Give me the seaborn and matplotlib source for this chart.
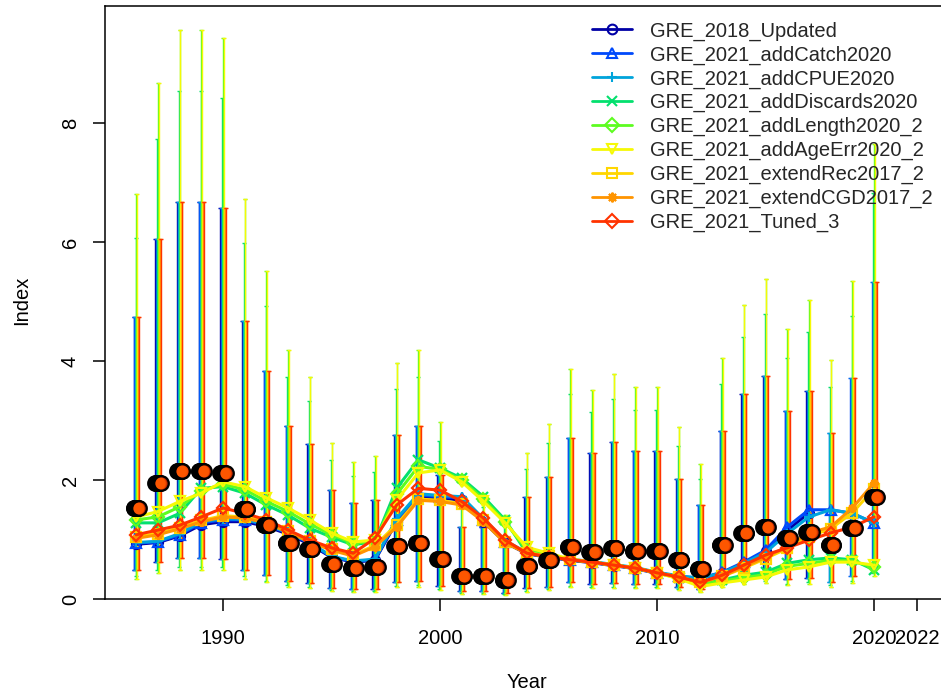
import numpy as np
import pandas as pd
import matplotlib
matplotlib.use("Agg")
import matplotlib.pyplot as plt
import seaborn as sns
from matplotlib.lines import Line2D
from matplotlib.colors import to_rgba

# ---------------- data ----------------
years = list(range(1986, 2021))

models = ["GRE_2018_Updated", "GRE_2021_addCatch2020", "GRE_2021_addCPUE2020",
          "GRE_2021_addDiscards2020", "GRE_2021_addLength2020_2", "GRE_2021_addAgeErr2020_2",
          "GRE_2021_extendRec2017_2", "GRE_2021_extendCGD2017_2", "GRE_2021_Tuned_3"]
colors = ["#0000A6", "#0049FB", "#00A4DB", "#03E06E", "#5DFC20", "#F6F905",
          "#FFD600", "#FF9400", "#FF3300"]
markers = ["o", "^", "+", "x", "D", "v", "s", (8, 2, 0), "D"]
unc_group = ["low", "low", "low", "mid", "high", "high", "low", "low", "low"]
last_year = [2017, 2020, 2020, 2020, 2020, 2020, 2020, 2020, 2020]

obs = [1.53, 1.95, 2.15, 2.15, 2.12, 1.51, 1.24, 0.94, 0.84, 0.59, 0.52, 0.54,
       0.89, 0.94, 0.67, 0.39, 0.39, 0.32, 0.55, 0.66, 0.87, 0.79, 0.85, 0.80,
       0.80, 0.65, 0.51, 0.91, 1.11, 1.21, 1.02, 1.13, 0.90, 1.20, 1.72]

upper_low = [4.74, 6.05, 6.67, 6.67, 6.57, 4.68, 3.84, 2.91, 2.60, 1.83, 1.61, 1.67,
             2.76, 2.91, 2.08, 1.21, 1.21, 0.99, 1.71, 2.05, 2.70, 2.45, 2.64, 2.48,
             2.48, 2.02, 1.58, 2.82, 3.44, 3.75, 3.16, 3.50, 2.79, 3.72, 5.33]
upper_mid = [6.07, 7.74, 8.54, 8.54, 8.42, 5.99, 4.92, 3.73, 3.33, 2.34, 2.06, 2.14,
             3.53, 3.73, 2.66, 1.55, 1.55, 1.27, 2.18, 2.62, 3.45, 3.14, 3.37, 3.18,
             3.18, 2.58, 2.02, 3.61, 4.41, 4.80, 4.05, 4.49, 3.57, 4.76, 6.83]
upper_high = [6.81, 8.68, 9.57, 9.57, 9.43, 6.72, 5.52, 4.18, 3.74, 2.63, 2.31, 2.40,
              3.96, 4.18, 2.98, 1.74, 1.74, 1.42, 2.45, 2.94, 3.87, 3.52, 3.78, 3.56,
              3.56, 2.89, 2.27, 4.05, 4.94, 5.38, 4.54, 5.03, 4.01, 5.34, 7.65]
lower_low = [0.49, 0.63, 0.69, 0.69, 0.68, 0.49, 0.40, 0.30, 0.27, 0.19, 0.17, 0.17,
             0.29, 0.30, 0.22, 0.13, 0.13, 0.10, 0.18, 0.21, 0.28, 0.25, 0.27, 0.26,
             0.26, 0.21, 0.16, 0.29, 0.36, 0.39, 0.33, 0.36, 0.29, 0.39, 0.55]
lower_mid = [0.39, 0.49, 0.54, 0.54, 0.53, 0.38, 0.31, 0.24, 0.21, 0.15, 0.13, 0.14,
             0.22, 0.24, 0.17, 0.10, 0.10, 0.08, 0.14, 0.17, 0.22, 0.20, 0.21, 0.20,
             0.20, 0.16, 0.13, 0.23, 0.28, 0.30, 0.26, 0.28, 0.23, 0.30, 0.43]
lower_high = [0.34, 0.44, 0.48, 0.48, 0.48, 0.34, 0.28, 0.21, 0.19, 0.13, 0.12, 0.12,
              0.20, 0.21, 0.15, 0.09, 0.09, 0.07, 0.12, 0.15, 0.20, 0.18, 0.19, 0.18,
              0.18, 0.15, 0.11, 0.20, 0.25, 0.27, 0.23, 0.25, 0.20, 0.27, 0.39]

exp_2018_updated = [0.92, 0.95, 1.06, 1.25, 1.30, 1.30, 1.22, 1.09, 0.92, 0.70, 0.62, 0.65,
                    1.30, 1.72, 1.70, 1.66, 1.30, 0.95, 0.76, 0.70, 0.65, 0.61, 0.56, 0.51,
                    0.43, 0.37, 0.34, 0.44, 0.60, 0.80, 1.15, 1.45]
exp_add_catch = [0.94, 0.96, 1.08, 1.28, 1.33, 1.33, 1.24, 1.11, 0.94, 0.71, 0.63, 0.66,
                 1.33, 1.75, 1.72, 1.70, 1.33, 0.96, 0.77, 0.71, 0.66, 0.62, 0.57, 0.52,
                 0.44, 0.38, 0.35, 0.45, 0.62, 0.82, 1.21, 1.50, 1.50, 1.44, 1.28]
exp_add_cpue = [0.95, 0.97, 1.10, 1.30, 1.35, 1.34, 1.25, 1.12, 0.95, 0.72, 0.64, 0.67,
                1.35, 1.77, 1.74, 1.72, 1.35, 0.98, 0.78, 0.72, 0.67, 0.63, 0.58, 0.53,
                0.45, 0.39, 0.35, 0.44, 0.60, 0.78, 1.10, 1.38, 1.50, 1.44, 1.28]
exp_add_discards = [1.28, 1.28, 1.44, 1.86, 1.89, 1.78, 1.58, 1.41, 1.19, 1.04, 0.91, 0.97,
                    1.86, 2.34, 2.20, 2.03, 1.72, 1.33, 0.77, 0.71, 0.66, 0.62, 0.57, 0.52,
                    0.44, 0.36, 0.28, 0.32, 0.40, 0.45, 0.60, 0.66, 0.69, 0.66, 0.49]
exp_add_length = [1.33, 1.38, 1.55, 1.82, 1.93, 1.84, 1.64, 1.47, 1.26, 1.08, 0.94, 0.97,
                  1.76, 2.23, 2.18, 2.00, 1.68, 1.30, 0.82, 0.74, 0.66, 0.62, 0.57, 0.52,
                  0.44, 0.35, 0.25, 0.30, 0.36, 0.41, 0.55, 0.60, 0.65, 0.64, 0.53]
exp_add_ageerr = [1.38, 1.47, 1.64, 1.78, 1.97, 1.89, 1.70, 1.53, 1.33, 1.11, 0.96, 0.99,
                  1.66, 2.12, 2.17, 1.97, 1.64, 1.28, 0.87, 0.77, 0.67, 0.62, 0.57, 0.52,
                  0.44, 0.34, 0.21, 0.27, 0.32, 0.37, 0.49, 0.54, 0.62, 0.62, 0.57]
exp_extend_rec = [1.05, 1.10, 1.20, 1.32, 1.40, 1.38, 1.30, 1.14, 0.97, 0.84, 0.74, 0.90,
                  1.25, 1.68, 1.66, 1.60, 1.32, 0.96, 0.78, 0.72, 0.67, 0.62, 0.57, 0.52,
                  0.44, 0.37, 0.28, 0.38, 0.52, 0.68, 0.85, 1.05, 1.18, 1.45, 1.85]
exp_extend_cgd = [1.02, 1.08, 1.18, 1.30, 1.38, 1.36, 1.28, 1.12, 0.96, 0.82, 0.72, 0.88,
                  1.21, 1.66, 1.64, 1.58, 1.30, 0.94, 0.77, 0.71, 0.66, 0.62, 0.57, 0.52,
                  0.44, 0.37, 0.28, 0.38, 0.54, 0.70, 0.88, 1.11, 1.21, 1.53, 1.95]
exp_tuned = [1.08, 1.16, 1.24, 1.38, 1.53, 1.44, 1.33, 1.16, 0.99, 0.86, 0.77, 1.02,
             1.58, 1.86, 1.83, 1.64, 1.36, 0.99, 0.77, 0.71, 0.66, 0.62, 0.57, 0.52,
             0.44, 0.37, 0.28, 0.40, 0.57, 0.74, 0.86, 0.99, 1.11, 1.21, 1.38]
expected = [exp_2018_updated, exp_add_catch, exp_add_cpue, exp_add_discards, exp_add_length,
            exp_add_ageerr, exp_extend_rec, exp_extend_cgd, exp_tuned]

x_ticks = [1990, 2000, 2010, 2020, 2022]
y_ticks = [0, 2, 4, 6, 8]

# ---------------- build tables ----------------
rows = []
for m, vals in zip(models, expected):
    for yr, v in zip(years, vals):
        rows.append({"Model": m, "Year": yr, "Index": v})
df_exp = pd.DataFrame(rows)

bounds = {"low": (lower_low, upper_low), "mid": (lower_mid, upper_mid),
          "high": (lower_high, upper_high)}

# ---------------- plot ----------------
sns.set_theme(style="white")
plt.rcParams['font.family'] = ['Liberation Sans', 'DejaVu Sans']

W, H = 941, 696
fig = plt.figure(figsize=(W / 100, H / 100), dpi=100)
ax = fig.add_axes([105 / W, (H - 599) / H, (943 - 105) / W, (599 - 6) / H])

n_mod = len(models)
offsets = [(i - (n_mod - 1) / 2) * 0.03 for i in range(n_mod)]

# error bars (uncertainty of observed index for each model)
for i, m in enumerate(models):
    n = years.index(last_year[i]) + 1
    lo, up = bounds[unc_group[i]]
    yv = np.array(obs[:n])
    err = [yv - np.array(lo[:n]), np.array(up[:n]) - yv]
    ax.errorbar(np.array(years[:n]) + offsets[i], yv, yerr=err, fmt="none",
                ecolor=colors[i], elinewidth=1.0, capsize=1.6, capthick=1.0, zorder=1)

# expected index lines
for i, m in enumerate(models):
    sub = df_exp[df_exp["Model"] == m]
    sns.lineplot(data=sub, x="Year", y="Index", ax=ax, color=colors[i], lw=2.2,
                 marker=markers[i], markersize=6.5, mfc="none", mec=colors[i],
                 mew=1.6, legend=False, zorder=2)

# observed points
for i, m in enumerate(models):
    n = years.index(last_year[i]) + 1
    ax.plot(np.array(years[:n]) + offsets[i], obs[:n], linestyle="none", marker="o",
            markersize=10.5, mfc=to_rgba(colors[i], 0.7), mec="black", mew=1.6,
            zorder=3 + i)

ax.set_xlim(1984.56, 2023.18)
ax.set_ylim(0, 9.97)
ax.set_xticks(x_ticks)
ax.set_xticklabels([str(t) for t in x_ticks])
ax.set_yticks(y_ticks)
ax.set_yticklabels([str(t) for t in y_ticks], rotation=90, va="center")
ax.tick_params(axis="both", direction="out", length=8.6, width=1.1, color="black",
               labelsize=14.5, labelcolor="black", bottom=True, left=True)
ax.tick_params(axis="x", pad=13)
ax.tick_params(axis="y", pad=9.5)
for s in ax.spines.values():
    s.set_color("black")
    s.set_linewidth(1.1)
ax.grid(False)

ax.set_xlabel("Year", fontsize=14.5, color="black", va="center")
ax.xaxis.set_label_coords((527 - 105) / 838, (599 - 683) / 593)
ax.set_ylabel("Index", fontsize=14.5, color="black", va="center")
ax.yaxis.set_label_coords((22 - 105) / 838, (599 - 300) / 593)

handles = [Line2D([], [], color=colors[i], lw=2.0, marker=markers[i], markersize=7,
                  mfc="none", mec=colors[i], mew=1.5) for i in range(n_mod)]
fig.legend(handles, models, loc="upper left", bbox_to_anchor=(592 / W, 1 - 21.5 / H),
           bbox_transform=fig.transFigure, frameon=False, fontsize=14.5,
           handlelength=2.0, handletextpad=0.9, labelspacing=0.23, borderpad=0,
           borderaxespad=0)

fig.savefig("out.png", dpi=100)
